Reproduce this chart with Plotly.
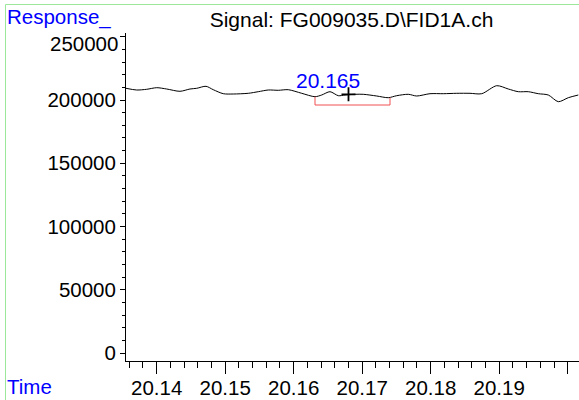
import plotly.graph_objects as go

# Signal trace (time in min, response)
time = [20.13552, 20.13708, 20.13854, 20.14000, 20.14146, 20.14340, 20.14486, 20.14584,
        20.14720, 20.14826, 20.14972, 20.15118, 20.15337, 20.15483, 20.15629, 20.15775,
        20.15921, 20.16117, 20.16311, 20.16409, 20.16530, 20.16651, 20.16749, 20.16895,
        20.17016, 20.17212, 20.17381, 20.17504, 20.17673, 20.17796, 20.17990, 20.18184,
        20.18380, 20.18574, 20.18745, 20.18964, 20.19133, 20.19279, 20.19425, 20.19571,
        20.19717, 20.19863, 20.20009, 20.20155]
response = [209245, 207900, 208455, 209720, 208690, 206874, 208690, 209245,
            210830, 208140, 204980, 204740, 205290, 206560, 207900, 207665,
            208140, 205290, 202610, 203950, 206560, 203400, 203950, 204500,
            204500, 203160, 201820, 203400, 204500, 203160, 204980, 204980,
            205290, 205290, 204980, 211300, 208690, 206560, 206560, 204980,
            203950, 198660, 201820, 203950]

# Integration bracket
bracket_x = [20.16311, 20.16311, 20.17406, 20.17406]
bracket_y = [202610, 196040, 196040, 201820]

# Peak marker and label
peak_x = [20.16800]
peak_y = [204500]
peak_label = "20.165"
peak_label_x = 20.165
peak_label_y = 215800

x_tickvals = [20.14, 20.15, 20.16, 20.17, 20.18, 20.19, 20.20]
x_ticktext = ["20.14", "20.15", "20.16", "20.17", "20.18", "20.19", ""]
y_tickvals = [0, 50000, 100000, 150000, 200000, 250000]
y_ticktext = ["0", "50000", "100000", "150000", "200000", ""]
y_top_label = "250000"

title_text = "Signal: FG009035.D\\FID1A.ch"

W, H = 579, 400
L, R, T, B = 126, 0, 33, 39
PW, PH = W - L - R, H - T - B


def px2paper_x(px):
    return (px - L) / PW


def px2paper_y(py):
    return (H - B - py) / PH


FONT = "Liberation Sans, Arial, sans-serif"
BLUE = "#0000ff"

fig = go.Figure()
fig.add_trace(go.Scatter(x=time, y=response, mode="lines",
                         line=dict(color="black", width=1, shape="spline", smoothing=0.8),
                         hoverinfo="skip", showlegend=False))
fig.add_trace(go.Scatter(x=bracket_x, y=bracket_y, mode="lines",
                         line=dict(color="#f05050", width=1),
                         hoverinfo="skip", showlegend=False))
fig.add_trace(go.Scatter(x=peak_x, y=peak_y, mode="markers",
                         marker=dict(symbol="cross-thin", size=10,
                                     line=dict(color="black", width=1.8)),
                         hoverinfo="skip", showlegend=False))

fig.add_annotation(x=peak_label_x, y=peak_label_y, text=peak_label, showarrow=False,
                   font=dict(family=FONT, size=21, color=BLUE),
                   xanchor="center", yanchor="middle")
fig.add_annotation(xref="paper", yref="paper", x=px2paper_x(5), y=px2paper_y(17),
                   text="Response_", showarrow=False,
                   font=dict(family=FONT, size=20.5, color=BLUE),
                   xanchor="left", yanchor="middle")
fig.add_annotation(xref="paper", yref="paper", x=px2paper_x(5), y=px2paper_y(386),
                   text="Time", showarrow=False,
                   font=dict(family=FONT, size=20.5, color=BLUE),
                   xanchor="left", yanchor="middle")
# top y tick label, nudged down below the "Response_" caption as in the original
fig.add_annotation(xref="paper", yref="paper", x=px2paper_x(120), y=px2paper_y(43),
                   text=y_top_label, showarrow=False,
                   font=dict(family=FONT, size=20.5, color="black"),
                   xanchor="right", yanchor="middle")

# light green frame
fig.add_shape(type="rect", xref="paper", yref="paper",
              x0=px2paper_x(5.5), x1=px2paper_x(600), y0=px2paper_y(420), y1=px2paper_y(4.5),
              line=dict(color="#9be89b", width=1), fillcolor="rgba(0,0,0,0)", layer="below")

fig.update_layout(
    width=W, height=H,
    margin=dict(l=L, r=R, t=T, b=B, pad=0),
    paper_bgcolor="white", plot_bgcolor="white",
    font=dict(family=FONT, size=20.5, color="black"),
    title=dict(text=title_text, xref="paper", x=px2paper_x(351.5), xanchor="center",
               yref="container", y=1 - 20 / H, yanchor="middle",
               font=dict(family=FONT, size=21, color="black")),
    xaxis=dict(range=[20.13552, 20.20165], tickmode="array", tickvals=x_tickvals,
               ticktext=x_ticktext, ticks="outside", ticklen=12, tickwidth=1,
               tickcolor="black", showline=True, linecolor="black", linewidth=1,
               showgrid=False, zeroline=False, ticklabelstandoff=-4,
               minor=dict(tickmode="linear", tick0=20.14, dtick=0.002, ticks="outside",
                          ticklen=6, tickcolor="black", tickwidth=1, showgrid=False),
               tickfont=dict(family=FONT, size=20.5, color="black")),
    yaxis=dict(range=[-6324, 252960], tickmode="array", tickvals=y_tickvals,
               ticktext=y_ticktext, ticks="outside", ticklen=5, tickwidth=1,
               tickcolor="black", showline=True, linecolor="black", linewidth=1,
               showgrid=False, zeroline=False,
               minor=dict(tickmode="linear", tick0=0, dtick=10000, ticks="outside",
                          ticklen=3, tickcolor="black", tickwidth=1, showgrid=False),
               tickfont=dict(family=FONT, size=20.5, color="black")),
)

fig.write_html("out.html", config={"displayModeBar": False},
               post_script="document.body.style.margin='0';document.body.style.padding='0';")
